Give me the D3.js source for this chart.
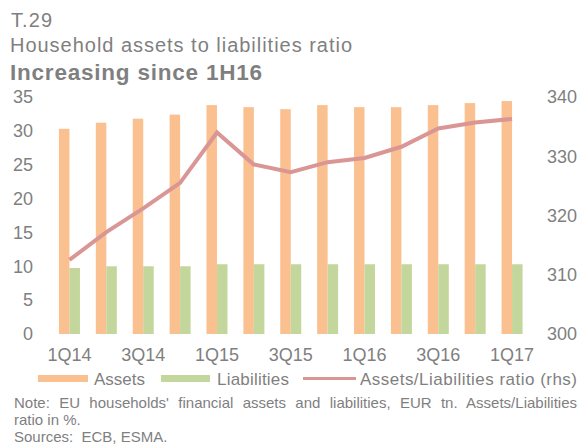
<!DOCTYPE html>
<html>
<head>
<meta charset="utf-8">
<script src="https://cdn.jsdelivr.net/npm/d3@7"></script>
<style>
  body { margin: 0; background: #fff; }
  svg text { font-family: "Liberation Sans", Arial, sans-serif; fill: #7f7f7f; }
</style>
</head>
<body>
<svg width="579" height="445"></svg>
<script>
// data
var quarters = ['1Q14', '2Q14', '3Q14', '4Q14', '1Q15', '2Q15', '3Q15', '4Q15',
    '1Q16', '2Q16', '3Q16', '4Q16', '1Q17']
var assets = [30.3, 31.2, 31.8, 32.4, 33.8, 33.5, 33.2, 33.8, 33.5, 33.5, 33.8, 34.1, 34.4]
var liabilities = [9.75, 10.0, 10.0, 10.0, 10.3, 10.3, 10.3, 10.3, 10.3, 10.3, 10.3, 10.3, 10.3]
var ratio = [312.5, 317.2, 321.2, 325.5, 334.0, 328.6, 327.3, 329.0, 329.7, 331.6, 334.7, 335.7, 336.3]
var leftTicks = [0, 5, 10, 15, 20, 25, 30, 35]
var rightTicks = [300, 310, 320, 330, 340]

var svg = d3.select('svg')

var x = d3.scaleBand()
    .domain(quarters)
    .range([51, 530.5])

var yL = d3.scaleLinear()
    .domain([0, 35])
    .range([334, 97])

var yR = d3.scaleLinear()
    .domain([300, 340])
    .range([334, 97])

var barW = 10.5

// titles
svg.append('text').text('T.29')
    .attr('x', 11).attr('y', 27)
    .attr('textLength', 41)
    .style('font-size', '20px')
svg.append('text').text('Household assets to liabilities ratio')
    .attr('x', 10).attr('y', 52)
    .attr('textLength', 342)
    .style('font-size', '20px')
svg.append('text').text('Increasing since 1H16')
    .attr('x', 10).attr('y', 80)
    .attr('textLength', 252)
    .style('font-size', '22.5px')
    .style('font-weight', 'bold')

// bars
svg.selectAll('rect.assets')
    .data(assets)
    .enter()
    .append('rect')
    .attr('class', 'assets')
    .attr('x', (d, i) => x(quarters[i]) + x.bandwidth() / 2 - barW)
    .attr('y', d => yL(d))
    .attr('width', barW)
    .attr('height', d => yL(0) - yL(d))
    .attr('fill', '#FAC090')

svg.selectAll('rect.liab')
    .data(liabilities)
    .enter()
    .append('rect')
    .attr('class', 'liab')
    .attr('x', (d, i) => x(quarters[i]) + x.bandwidth() / 2)
    .attr('y', d => yL(d))
    .attr('width', barW)
    .attr('height', d => yL(0) - yL(d))
    .attr('fill', '#C3D69B')

// ratio line
var line = d3.line()
    .x((d, i) => x(quarters[i]) + x.bandwidth() / 2)
    .y(d => yR(d))

svg.append('path')
    .datum(ratio)
    .attr('d', line)
    .attr('fill', 'none')
    .attr('stroke', '#D99694')
    .attr('stroke-width', 4)

// axes
var leftAxis = svg.append('g')
    .attr('transform', 'translate(33,0)')
    .call(d3.axisLeft(yL).tickValues(leftTicks).tickSize(0).tickPadding(0))
leftAxis.select('.domain').remove()
leftAxis.selectAll('text').style('font-size', '18px').attr('fill', null)

var rightAxis = svg.append('g')
    .attr('transform', 'translate(547,0)')
    .call(d3.axisRight(yR).tickValues(rightTicks).tickSize(0).tickPadding(0))
rightAxis.select('.domain').remove()
rightAxis.selectAll('text').style('font-size', '18px').attr('fill', null)

var bottomAxis = svg.append('g')
    .attr('transform', 'translate(0,348)')
    .call(d3.axisBottom(x)
        .tickValues(quarters.filter((d, i) => i % 2 === 0))
        .tickSize(0).tickPadding(0))
bottomAxis.select('.domain').remove()
bottomAxis.selectAll('text').style('font-size', '18px').attr('fill', null)

// legend
var legend = svg.append('g')
legend.append('rect').attr('x', 38).attr('y', 375).attr('width', 50).attr('height', 7).attr('fill', '#FAC090')
legend.append('text').text('Assets').attr('x', 94).attr('y', 385).style('font-size', '17px')
legend.append('rect').attr('x', 161).attr('y', 375).attr('width', 49).attr('height', 7).attr('fill', '#C3D69B')
legend.append('text').text('Liabilities').attr('x', 217).attr('y', 385)
    .attr('textLength', 72).style('font-size', '17px')
legend.append('line').attr('x1', 303).attr('x2', 356).attr('y1', 378.5).attr('y2', 378.5)
    .attr('stroke', '#D99694').attr('stroke-width', 3)
legend.append('text').text('Assets/Liabilities ratio (rhs)').attr('x', 360).attr('y', 385)
    .attr('textLength', 217).style('font-size', '17px')

// note, justified on the first line
var note1 = svg.append('text')
    .text("Note: EU households' financial assets and liabilities, EUR tn. Assets/Liabilities")
    .attr('x', 14).attr('y', 408)
    .style('font-size', '15px')
var w = note1.node().getComputedTextLength()
var gaps = note1.text().split(' ').length - 1
note1.style('word-spacing', ((577 - 14 - w) / gaps) + 'px')

svg.append('text').text('ratio in %.')
    .attr('x', 14).attr('y', 425)
    .style('font-size', '15px')
svg.append('text').text('Sources:  ECB, ESMA.')
    .attr('x', 14).attr('y', 442)
    .style('font-size', '15px')
    .style('white-space', 'pre')
</script>
</body>
</html>
